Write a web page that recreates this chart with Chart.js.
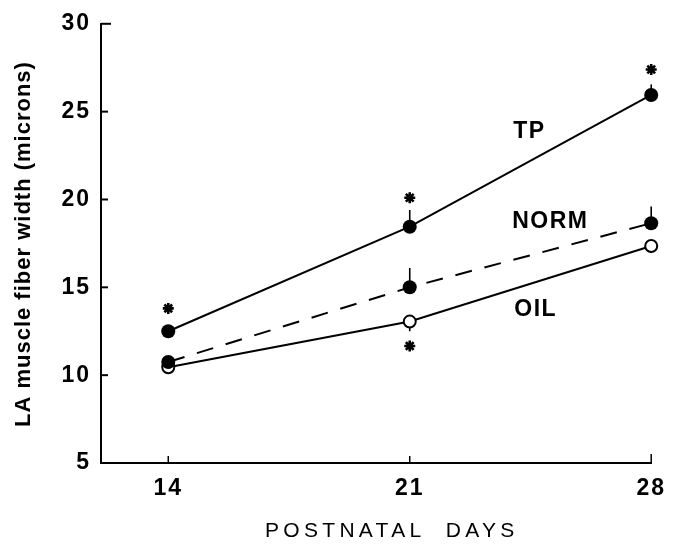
<!DOCTYPE html>
<html>
<head>
<meta charset="utf-8">
<title>LA muscle fiber width</title>
<script src="https://cdn.jsdelivr.net/npm/chart.js@4/dist/chart.umd.min.js"></script>
<style>
  html, body { margin: 0; padding: 0; background: #fff; }
  #chart { display: block; }
</style>
</head>
<body>
<canvas id="chart" width="676" height="544"></canvas>
<script>
// ------------------------------------------------------------
// Data
// ------------------------------------------------------------
const days = [14, 21, 28];
const dayTicks = [14, 21, 28];
const widthTicks = [5, 10, 15, 20, 25, 30];

const tpWidth = [12.5, 18.45, 25.95];
const normWidth = [10.75, 15.0, 18.65];
const oilWidth = [10.45, 13.05, 17.35];

// one-sided error bars (TP / NORM up, OIL down)
const tpErr = [0.3, 0.95, 0.6];
const normErr = [0.3, 1.1, 0.95];
const oilErr = [0.3, 0.55, 0.4];

// significance asterisks
const starDays = [14, 21, 28, 21];
const starWidth = [13.8, 20.1, 27.4, 11.66];

const FONT = '"Liberation Sans", Arial, Helvetica, sans-serif';

function pts(xs, ys) {
  return xs.map((x, i) => ({ x, y: ys[i] }));
}

// ------------------------------------------------------------
// Error bars, inward ticks, labels and axis titles
// ------------------------------------------------------------
const errorSets = [
  { values: normWidth, err: normErr, dir: 1 },
  { values: tpWidth, err: tpErr, dir: 1 },
  { values: oilWidth, err: oilErr, dir: -1 },
];

const seriesLabels = [
  { text: 'TP', x: 24.0, y: 23.5 },
  { text: 'NORM', x: 23.97, y: 18.37 },
  { text: 'OIL', x: 24.03, y: 13.35 },
];

const decorPlugin = {
  id: 'decor',
  beforeDraw(chart) {
    chart.ctx.letterSpacing = '2px';
  },
  beforeDatasetsDraw(chart) {
    const { ctx, scales: { x, y } } = chart;
    ctx.save();
    ctx.strokeStyle = '#000';
    ctx.lineWidth = 1.6;
    errorSets.forEach(s => {
      days.forEach((d, i) => {
        const px = x.getPixelForValue(d);
        ctx.beginPath();
        ctx.moveTo(px, y.getPixelForValue(s.values[i]));
        ctx.lineTo(px, y.getPixelForValue(s.values[i] + s.dir * s.err[i]));
        ctx.stroke();
      });
    });
    ctx.restore();
  },
  afterDraw(chart) {
    const { ctx, chartArea: area, scales: { x, y } } = chart;
    ctx.save();
    ctx.strokeStyle = '#000';
    ctx.lineWidth = 2;

    // inward tick marks
    widthTicks.forEach(v => {
      const py = y.getPixelForValue(v);
      const len = v === 30 ? 10 : 7;
      ctx.beginPath();
      ctx.moveTo(area.left, py);
      ctx.lineTo(area.left + len, py);
      ctx.stroke();
    });
    ctx.lineWidth = 1.5;
    dayTicks.forEach(v => {
      const px = x.getPixelForValue(v);
      ctx.beginPath();
      ctx.moveTo(px, area.bottom);
      ctx.lineTo(px, area.bottom - (v === 28 ? 9 : 7));
      ctx.stroke();
    });

    // series labels
    ctx.fillStyle = '#000';
    ctx.letterSpacing = '1.5px';
    ctx.font = 'bold 23px ' + FONT;
    ctx.textAlign = 'left';
    ctx.textBaseline = 'alphabetic';
    seriesLabels.forEach(l => {
      ctx.fillText(l.text, x.getPixelForValue(l.x), y.getPixelForValue(l.y));
    });

    // x title
    ctx.font = '21px ' + FONT;
    ctx.letterSpacing = '4.3px';
    ctx.fillText('POSTNATAL  DAYS', 265, 537);

    // y title
    ctx.font = 'bold 22px ' + FONT;
    ctx.letterSpacing = '1px';
    ctx.translate(30, 427);
    ctx.rotate(-Math.PI / 2);
    ctx.fillText('LA muscle fiber width (microns)', 0, 0);
    ctx.restore();
  },
};

// ------------------------------------------------------------
// Chart
// ------------------------------------------------------------
const ctx = document.getElementById('chart').getContext('2d');

new Chart(ctx, {
  type: 'line',
  data: {
    datasets: [
      {
        label: 'asterisks',
        data: pts(starDays, starWidth),
        showLine: false,
        pointStyle: 'star',
        pointRadius: 5.5,
        borderColor: '#000',
        borderWidth: 2.6,
        clip: false,
      },
      {
        label: 'NORM',
        data: pts(days, normWidth),
        borderColor: '#000',
        borderWidth: 2,
        borderDash: [17, 13],
        pointRadius: 7,
        pointBackgroundColor: '#000',
        pointBorderColor: '#000',
        pointBorderWidth: 0,
        clip: false,
      },
      {
        label: 'TP',
        data: pts(days, tpWidth),
        borderColor: '#000',
        borderWidth: 2,
        pointRadius: 7,
        pointBackgroundColor: '#000',
        pointBorderColor: '#000',
        pointBorderWidth: 0,
        clip: false,
      },
      {
        label: 'OIL',
        data: pts(days, oilWidth),
        borderColor: '#000',
        borderWidth: 2,
        pointRadius: 6,
        pointBackgroundColor: '#fff',
        pointBorderColor: '#000',
        pointBorderWidth: 2,
        clip: false,
      },
    ],
  },
  options: {
    responsive: false,
    animation: false,
    layout: { padding: { top: 20, right: 18, left: 0, bottom: 0 } },
    plugins: {
      legend: { display: false },
      tooltip: { enabled: false },
    },
    scales: {
      x: {
        type: 'linear',
        min: 12.05,
        max: 28,
        afterBuildTicks: scale => {
          scale.ticks = dayTicks.map(v => ({ value: v }));
        },
        afterFit: scale => { scale.height = 81; },
        grid: { display: false, drawTicks: false },
        border: { display: true, color: '#000', width: 2 },
        ticks: {
          color: '#000',
          padding: 12,
          maxRotation: 0,
          font: { family: FONT, size: 23, weight: 'bold' },
        },
      },
      y: {
        min: 5,
        max: 30,
        afterBuildTicks: scale => {
          scale.ticks = widthTicks.map(v => ({ value: v }));
        },
        afterFit: scale => { scale.width = 101; },
        grid: { display: false, drawTicks: false },
        border: { display: true, color: '#000', width: 2 },
        ticks: {
          color: '#000',
          padding: 10,
          font: { family: FONT, size: 23, weight: 'bold' },
        },
      },
    },
  },
  plugins: [decorPlugin],
});
</script>
</body>
</html>
